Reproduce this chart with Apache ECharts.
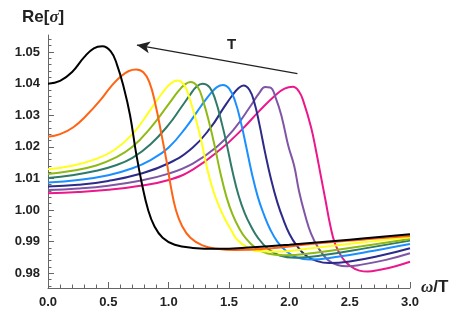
<!DOCTYPE html>
<html>
<head>
<meta charset="utf-8">
<script src="https://cdn.jsdelivr.net/npm/echarts@6/dist/echarts.min.js"></script>
<style>
  html, body { margin: 0; padding: 0; background: #fff; }
  #chart { width: 460px; height: 329px; }
</style>
</head>
<body>
<div id="chart"></div>
<script>
// curves, [omega/T, Re sigma]
const blackPts = [[0,1.0400],[0.1,1.0409],[0.2,1.0437],[0.3,1.0484],[0.38,1.0512],[0.45,1.0518],[0.52,1.0502],[0.57,1.0462],[0.63,1.0385],[0.68,1.0300],[0.73,1.0180],[0.78,1.0080],[0.83,1.0000],[0.88,0.9950],[0.95,0.9912],[1.05,0.9890],[1.2,0.9880],[1.4,0.9877],[1.7,0.9882],[2.0,0.9890],[2.5,0.9906],[3.0,0.9923]];
const orangePts = [[0,1.0232],[0.1,1.0240],[0.21,1.0262],[0.32,1.0300],[0.43,1.0346],[0.52,1.0390],[0.6,1.0422],[0.67,1.0440],[0.73,1.0445],[0.79,1.0436],[0.84,1.0405],[0.89,1.0335],[0.94,1.0240],[0.98,1.0160],[1.02,1.0070],[1.06,1.0000],[1.11,0.9950],[1.18,0.9912],[1.28,0.9888],[1.4,0.9877],[1.55,0.9873],[1.8,0.9877],[2.2,0.9893],[2.6,0.9906],[3.0,0.9918]];
const yellowPts = [[0,1.0129],[0.2,1.0140],[0.4,1.0162],[0.55,1.0190],[0.7,1.0240],[0.85,1.0318],[0.95,1.0372],[1.01,1.0398],[1.07,1.0410],[1.13,1.0395],[1.18,1.0345],[1.23,1.0280],[1.27,1.0220],[1.32,1.0130],[1.37,1.0060],[1.42,1.0010],[1.46,0.9976],[1.52,0.9935],[1.57,0.9905],[1.65,0.9882],[1.75,0.9869],[1.9,0.9868],[2.2,0.9880],[2.6,0.9897],[3.0,0.9914]];
const limePts = [[0,1.0114],[0.2,1.0124],[0.4,1.0141],[0.55,1.0164],[0.7,1.0200],[0.85,1.0260],[1.0,1.0335],[1.08,1.0376],[1.13,1.0396],[1.18,1.0405],[1.24,1.0390],[1.29,1.0340],[1.34,1.0270],[1.38,1.0205],[1.43,1.0115],[1.48,1.0040],[1.53,0.9985],[1.58,0.9945],[1.64,0.9910],[1.72,0.9880],[1.82,0.9862],[1.95,0.9857],[2.2,0.9864],[2.6,0.9885],[3.0,0.9908]];
const tealPts = [[0,1.0101],[0.2,1.0110],[0.4,1.0124],[0.55,1.0140],[0.7,1.0165],[0.85,1.0208],[1.0,1.0270],[1.1,1.0323],[1.18,1.0366],[1.23,1.0390],[1.28,1.0400],[1.34,1.0388],[1.39,1.0345],[1.44,1.0275],[1.48,1.0210],[1.53,1.0120],[1.58,1.0045],[1.63,0.9990],[1.68,0.9950],[1.74,0.9912],[1.82,0.9878],[1.92,0.9856],[2.05,0.9849],[2.3,0.9858],[2.65,0.9880],[3.0,0.9903]];
const bluePts = [[0,1.0087],[0.25,1.0095],[0.5,1.0110],[0.7,1.0132],[0.85,1.0158],[1.0,1.0198],[1.15,1.0265],[1.27,1.0330],[1.35,1.0370],[1.4,1.0389],[1.45,1.0396],[1.5,1.0385],[1.55,1.0345],[1.6,1.0275],[1.64,1.0205],[1.69,1.0115],[1.74,1.0040],[1.79,0.9985],[1.84,0.9940],[1.9,0.9900],[1.98,0.9868],[2.06,0.9850],[2.17,0.9843],[2.4,0.9852],[2.7,0.9871],[3.0,0.9892]];
const navyPts = [[0,1.0074],[0.25,1.0080],[0.5,1.0092],[0.75,1.0113],[1.0,1.0148],[1.2,1.0198],[1.35,1.0262],[1.45,1.0320],[1.53,1.0364],[1.58,1.0386],[1.62,1.0394],[1.67,1.0380],[1.71,1.0340],[1.75,1.0275],[1.8,1.0180],[1.85,1.0095],[1.9,1.0025],[1.95,0.9970],[2.0,0.9925],[2.06,0.9888],[2.14,0.9855],[2.23,0.9838],[2.33,0.9832],[2.5,0.9837],[2.75,0.9855],[3.0,0.9879]];
const purplePts = [[0,1.0063],[0.25,1.0068],[0.5,1.0077],[0.75,1.0092],[1.0,1.0115],[1.2,1.0147],[1.4,1.0200],[1.55,1.0260],[1.68,1.0330],[1.75,1.0370],[1.8,1.0389],[1.84,1.0388],[1.89,1.0352],[1.94,1.0290],[1.99,1.0205],[2.04,1.0140],[2.08,1.0060],[2.13,0.9985],[2.18,0.9925],[2.24,0.9880],[2.32,0.9842],[2.4,0.9826],[2.48,0.9822],[2.6,0.9827],[2.8,0.9842],[3.0,0.9863]];
const magentaPts = [[0,1.0053],[0.25,1.0057],[0.5,1.0064],[0.75,1.0076],[1.0,1.0095],[1.2,1.0128],[1.43,1.0192],[1.6,1.0252],[1.75,1.0313],[1.88,1.0362],[1.96,1.0384],[2.03,1.0390],[2.08,1.0375],[2.12,1.0340],[2.18,1.0262],[2.22,1.0190],[2.26,1.0110],[2.3,1.0030],[2.34,0.9950],[2.38,0.9892],[2.44,0.9848],[2.5,0.9824],[2.58,0.9808],[2.65,0.9805],[2.75,0.9811],[2.88,0.9822],[3.0,0.9836]];

const curves = [blackPts, orangePts, yellowPts, limePts, tealPts, bluePts, navyPts, purplePts, magentaPts];
const colors = ["#000000", "#ff6414", "#ffff1a", "#8fba16", "#2f7a68", "#1a8fff", "#2c2a8a", "#7f56a6", "#ec178a"];

const yTicks = [0.98, 0.99, 1.00, 1.01, 1.02, 1.03, 1.04, 1.05];
const yMinorTicks = [0.976, 0.978, 0.982, 0.984, 0.986, 0.988, 0.992, 0.994, 0.996, 0.998,
  1.002, 1.004, 1.006, 1.008, 1.012, 1.014, 1.016, 1.018, 1.022, 1.024, 1.026, 1.028,
  1.032, 1.034, 1.036, 1.038, 1.042, 1.044, 1.046, 1.048, 1.052, 1.054];

// arrow marking growing T
const arrowFrom = [2.067, 1.0432];
const arrowTo = [0.737, 1.0522];

const chart = echarts.init(document.getElementById("chart"));

const axisColor = "#666";
const labelStyle = { color: "#222", fontSize: 13, fontWeight: "bold", fontFamily: "Liberation Sans" };

const series = curves.map((pts, i) => ({
  type: "line",
  data: pts,
  smooth: 0.45,
  showSymbol: false,
  lineStyle: { color: colors[i], width: 2 },
  itemStyle: { color: colors[i] },
  z: 10 - i,
}));

series[0].markLine = {
  silent: true,
  symbol: ["none", "arrow"],
  symbolSize: [9, 13],
  lineStyle: { color: "#222", width: 1.2, type: "solid" },
  label: { show: false },
  data: [[{ coord: arrowFrom }, { coord: arrowTo }]],
};

chart.setOption({
  animation: false,
  grid: { left: 48, right: 50, top: 35, bottom: 41 },
  xAxis: {
    type: "value",
    min: 0,
    max: 3,
    interval: 0.5,
    axisLine: { lineStyle: { color: axisColor, width: 1 } },
    axisTick: { inside: true, length: 6, lineStyle: { color: axisColor } },
    minorTick: { show: true, splitNumber: 5, length: 3.5, lineStyle: { color: axisColor } },
    axisLabel: { ...labelStyle, margin: 8, formatter: (v) => v.toFixed(1) },
    splitLine: { show: false },
  },
  yAxis: [
    {
      type: "value",
      min: 0.9753,
      max: 1.0554,
      axisLine: { show: true, lineStyle: { color: axisColor, width: 1 } },
      axisTick: { show: true, inside: true, length: 6, customValues: yTicks, lineStyle: { color: axisColor } },
      axisLabel: { ...labelStyle, margin: 8, customValues: yTicks, formatter: (v) => v.toFixed(2) },
      splitLine: { show: false },
    },
    {
      type: "value",
      position: "left",
      min: 0.9753,
      max: 1.0554,
      axisLine: { show: false },
      axisTick: { show: true, inside: true, length: 3.5, customValues: yMinorTicks, lineStyle: { color: axisColor } },
      axisLabel: { show: false },
      splitLine: { show: false },
    },
  ],
  graphic: [
    {
      type: "text",
      left: 22,
      top: 9,
      style: {
        text: "{a|Re[}{b|σ}{a|]}",
        rich: {
          a: { fontSize: 17, fontWeight: "bold", fill: "#222", fontFamily: "Liberation Sans" },
          b: { fontSize: 17, fontWeight: "bold", fontStyle: "italic", fill: "#222", fontFamily: "Liberation Serif" },
        },
      },
    },
    {
      type: "text",
      left: 421,
      top: 279,
      style: {
        text: "{b|ω}{a|/T}",
        rich: {
          a: { fontSize: 17, fontWeight: "bold", fill: "#222", fontFamily: "Liberation Sans" },
          b: { fontSize: 17, fontWeight: "bold", fontStyle: "italic", fill: "#222", fontFamily: "Liberation Serif" },
        },
      },
    },
    {
      type: "text",
      left: 227,
      top: 37,
      style: { text: "T", fontSize: 15, fontWeight: "bold", fill: "#222", fontFamily: "Liberation Sans" },
    },
  ],
  series: series,
});
</script>
</body>
</html>
